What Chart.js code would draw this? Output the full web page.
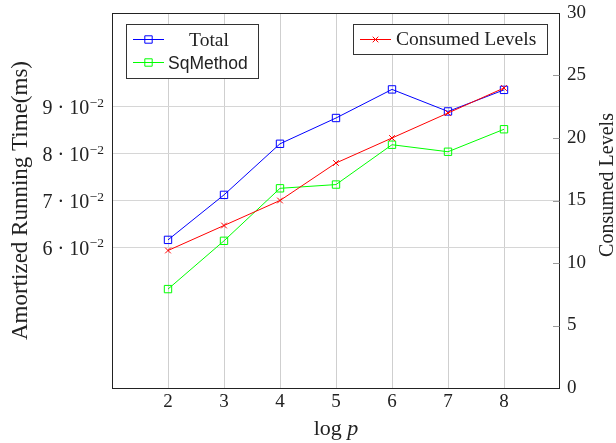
<!DOCTYPE html>
<html>
<head>
<meta charset="utf-8">
<script src="https://cdn.jsdelivr.net/npm/chart.js@4/dist/chart.umd.min.js"></script>
<style>
  html, body { margin: 0; padding: 0; background: #fff; }
  canvas { display: block; }
</style>
</head>
<body>
<canvas id="myChart" width="616" height="443"></canvas>
<script>
// Data
const logP = [2, 3, 4, 5, 6, 7, 8];
const totalMs = [0.0616, 0.0712, 0.0821, 0.0876, 0.0937, 0.0890, 0.0936];
const sqMethodMs = [0.0511, 0.0614, 0.0726, 0.0734, 0.0819, 0.0804, 0.0852];
const consumedLevels = [11, 13, 15, 18, 20, 22, 24];
const xTicks = [2, 3, 4, 5, 6, 7, 8];
const leftTicks = [0.06, 0.07, 0.08, 0.09];
const rightTicks = [0, 5, 10, 15, 20, 25, 30];

const SERIF = "'Liberation Serif', serif";
const SANS = "'Liberation Sans', sans-serif";
const INK = "#222";

const toPoints = (ys) => logP.map((x, i) => ({ x: x, y: ys[i] }));

// fixed box sizes, no label overhang padding
const fixBox = (w, h) => (s) => {
  if (w) s.width = w;
  if (h) s.height = h;
  s.paddingTop = 0; s.paddingBottom = 0;
  s.paddingLeft = 0; s.paddingRight = 0;
};

// small helper for the legend samples
const drawMarker = (ctx, style, color, x, y) => {
  ctx.save();
  ctx.strokeStyle = color;
  ctx.lineWidth = 1;
  ctx.beginPath();
  if (style === "rect") {
    ctx.rect(x - 3.7, y - 3.7, 7.4, 7.4);
  } else {
    ctx.moveTo(x - 2.8, y - 2.8); ctx.lineTo(x + 2.8, y + 2.8);
    ctx.moveTo(x + 2.8, y - 2.8); ctx.lineTo(x - 2.8, y + 2.8);
  }
  ctx.stroke();
  ctx.restore();
};

const drawLegendRow = (ctx, x0, y, color, style) => {
  ctx.save();
  ctx.strokeStyle = color;
  ctx.lineWidth = 1;
  ctx.beginPath();
  ctx.moveTo(x0, y);
  ctx.lineTo(x0 + 31, y);
  ctx.stroke();
  ctx.restore();
  drawMarker(ctx, style, color, x0 + 15.5, y);
};

const decor = {
  id: "decor",
  afterDraw(chart) {
    const ctx = chart.ctx;
    const ca = chart.chartArea;
    const yL = chart.scales.y;
    const yR = chart.scales.y1;
    ctx.save();

    // frame
    ctx.strokeStyle = INK;
    ctx.lineWidth = 1;
    ctx.strokeRect(ca.left + 0.5, ca.top + 0.5, ca.right - ca.left - 1, ca.bottom - ca.top);

    // inward ticks on right axis
    ctx.strokeStyle = "#9a9a9a";
    rightTicks.forEach((v) => {
      const py = Math.round(yR.getPixelForValue(v)) + 0.5;
      if (v === 0 || v === 30) return;
      ctx.beginPath();
      ctx.moveTo(ca.right - 7, py);
      ctx.lineTo(ca.right - 0.5, py);
      ctx.stroke();
    });

    // left tick labels  n · 10^-2
    ctx.fillStyle = INK;
    ctx.textBaseline = "alphabetic";
    leftTicks.forEach((v) => {
      const py = yL.getPixelForValue(v);
      ctx.font = "13.5px " + SERIF;
      ctx.textAlign = "right";
      const sup = "\u22122";
      const supW = ctx.measureText(sup).width;
      ctx.fillText(sup, 104, py);
      ctx.font = "20px " + SERIF;
      ctx.fillText(Math.round(v * 100) + " \u00B7 10", 104 - supW - 0.5, py + 7.5);
    });

    // axis titles
    ctx.font = "23px " + SERIF;
    ctx.textAlign = "center";
    ctx.save();
    ctx.translate(27, (ca.top + ca.bottom) / 2);
    ctx.rotate(-Math.PI / 2);
    ctx.fillText("Amortized Running Time(ms)", 0, 0);
    ctx.restore();

    ctx.save();
    ctx.font = "20px " + SERIF;
    ctx.translate(613, 185);
    ctx.rotate(-Math.PI / 2);
    ctx.fillText("Consumed Levels", 0, 0);
    ctx.restore();

    // x title: log p
    ctx.font = "22px " + SERIF;
    ctx.textAlign = "left";
    const wLog = ctx.measureText("log ").width;
    ctx.font = "italic 22px " + SERIF;
    const wP = ctx.measureText("p").width;
    const xs = (ca.left + ca.right) / 2 - (wLog + wP) / 2;
    ctx.font = "22px " + SERIF;
    ctx.fillText("log ", xs, 435);
    ctx.font = "italic 22px " + SERIF;
    ctx.fillText("p", xs + wLog, 435);

    // legend 1
    ctx.fillStyle = "#fff";
    ctx.fillRect(126, 24, 132, 54);
    ctx.strokeStyle = "#333";
    ctx.strokeRect(126.5, 24.5, 132, 54);
    drawLegendRow(ctx, 133, 39.5, "#0000ff", "rect");
    drawLegendRow(ctx, 133, 62.5, "#00ff00", "rect");
    ctx.fillStyle = INK;
    ctx.font = "19.5px " + SERIF;
    ctx.textAlign = "center";
    ctx.fillText("Total", 209, 45.5);
    ctx.font = "17.5px " + SANS;
    ctx.textAlign = "left";
    ctx.fillText("SqMethod", 168, 68.5);

    // legend 2
    ctx.fillStyle = "#fff";
    ctx.fillRect(353, 24, 194, 30);
    ctx.strokeStyle = "#333";
    ctx.strokeRect(353.5, 24.5, 194, 30);
    drawLegendRow(ctx, 360, 39.5, "#ff0000", "cross");
    ctx.fillStyle = INK;
    ctx.font = "19.5px " + SERIF;
    ctx.fillText("Consumed Levels", 396, 45);

    ctx.restore();
  },
};

const chrt = document.getElementById("myChart");

new Chart(chrt, {
  type: "line",
  data: {
    datasets: [
      {
        label: "Total",
        data: toPoints(totalMs),
        yAxisID: "y",
        borderColor: "#0000ff",
        borderWidth: 1,
        pointStyle: "rect",
        pointRadius: 5.2,
        pointBorderWidth: 1,
        pointBorderColor: "#0000ff",
        pointBackgroundColor: "rgba(0,0,0,0)",
        order: 2,
      },
      {
        label: "SqMethod",
        data: toPoints(sqMethodMs),
        yAxisID: "y",
        borderColor: "#00ff00",
        borderWidth: 1,
        pointStyle: "rect",
        pointRadius: 5.2,
        pointBorderWidth: 1,
        pointBorderColor: "#00ff00",
        pointBackgroundColor: "rgba(0,0,0,0)",
        order: 3,
      },
      {
        label: "Consumed Levels",
        data: toPoints(consumedLevels),
        yAxisID: "y1",
        borderColor: "#ff0000",
        borderWidth: 1,
        pointStyle: "crossRot",
        pointRadius: 4,
        pointBorderWidth: 1,
        pointBorderColor: "#ff0000",
        order: 1,
      },
    ],
  },
  options: {
    responsive: false,
    animation: false,
    devicePixelRatio: 1,
    layout: { autoPadding: false, padding: { top: 13, left: 0, right: 0, bottom: 0 } },
    plugins: {
      legend: { display: false },
      tooltip: { enabled: false },
    },
    scales: {
      x: {
        type: "linear",
        min: 1,
        max: 9,
        afterBuildTicks: (s) => { s.ticks = xTicks.map((v) => ({ value: v })); },
        afterFit: fixBox(0, 55),
        grid: { color: "#cfcfcf", lineWidth: 1, drawTicks: false, tickLength: 0 },
        border: { display: false },
        ticks: { font: { family: SERIF, size: 19 }, color: INK, padding: 3 },
      },
      y: {
        type: "linear",
        position: "left",
        min: 0.03,
        max: 0.11,
        afterBuildTicks: (s) => { s.ticks = leftTicks.map((v) => ({ value: v })); },
        afterFit: fixBox(112, 0),
        grid: { color: "#d6d6d6", lineWidth: 1, drawTicks: false, tickLength: 0 },
        border: { display: false },
        ticks: { display: false },
      },
      y1: {
        type: "linear",
        position: "right",
        min: 0,
        max: 30,
        afterBuildTicks: (s) => { s.ticks = rightTicks.map((v) => ({ value: v })); },
        afterFit: fixBox(56, 0),
        grid: { drawOnChartArea: false, drawTicks: false, tickLength: 0 },
        border: { display: false },
        ticks: { font: { family: SERIF, size: 19 }, color: INK, padding: 7 },
      },
    },
  },
  plugins: [decor],
});
</script>
</body>
</html>
